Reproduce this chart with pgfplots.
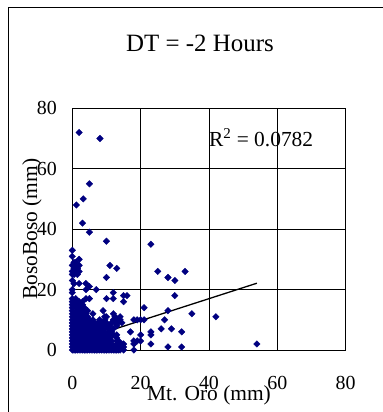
\documentclass[border=0pt]{standalone}
\usepackage{fontspec}
\setmainfont{Liberation Serif}
\usepackage{pgfplots}
\pgfplotsset{compat=1.18}
\definecolor{navy}{RGB}{0,0,128}
\begin{document}
\begin{tikzpicture}
\useasboundingbox (0,0) rectangle (383bp,412bp);
\draw[line width=1bp] (8bp,-20bp) rectangle (430bp,404bp);
\node[font=\fontsize{25}{30}\selectfont] at (200bp,369bp) {DT = -2 Hours};
\begin{axis}[
  at={(72.3bp,62bp)}, anchor=south west,
  scale only axis, width=273.4bp, height=241.7bp,
  xmin=0, xmax=80, ymin=0, ymax=80,
  xtick={0,20,40,60,80}, ytick={0,20,40,60,80},
  grid=major, major grid style={black, line width=0.8pt},
  axis line style={black, line width=1pt},
  tick style={draw=none},
  ticklabel style={font=\fontsize{20}{24}\selectfont},
  /pgf/number format/assume math mode=true,
  xticklabel style={yshift=-23bp},
  yticklabel style={xshift=-12bp},
  xlabel={Mt. Oro (mm)}, ylabel={BosoBoso (mm)},
  label style={font=\fontsize{21.5}{26}\selectfont},
  xlabel style={at={(axis description cs:0.5,0)}, anchor=center, yshift=-45bp},
  ylabel style={at={(axis description cs:-0.1474,0.5)}, anchor=center},
  clip=false,
]
\addplot[only marks, mark=square*, mark size=2.3bp, mark options={rotate=45, navy, fill=navy}, color=navy] coordinates {
(0,0)(0,1)(0,2)(0,3)(0,4)(0,5)(0,6)(0,7)(0,8)(0,9)(0,10)(0,11)(0,12)(0,13)(0,14)(0,15)(0,16)(0,17)(0,19)(0,20)(0,23)(0,25)(0,26)(0,28)(0,31)(0,33)
(0.5,0)(0.5,1)(0.5,2)(0.5,3)(0.5,4)(0.5,5)(0.5,6)(0.5,8)(0.5,10)(0.5,12)(0.5,15)(0.5,16)(0.5,22)(0.5,25)(0.5,27)(0.5,29)
(1,0)(1,1)(1,2)(1,3)(1,4)(1,5)(1,6)(1,7)(1,8)(1,9)(1,10)(1,11)(1,12)(1,14)(1,16)(1,17)(1,26)(1,28)(1,29)(1.2,48)
(1.5,0)(1.5,1)(1.5,2)(1.5,3)(1.5,4)(1.5,5)(1.5,7)(1.5,9)(1.5,11)(1.5,13)(1.5,15)(1.5,25)(1.5,27)
(2,0)(2,1)(2,2)(2,3)(2,4)(2,5)(2,6)(2,7)(2,8)(2,10)(2,12)(2,14)(2,16)(2,22)(2,26)(2,28)(2,30)(2,72)
(2.5,0)(2.5,1)(2.5,2)(2.5,3)(2.5,5)(2.5,6)(2.5,8)(2.5,9)(2.5,11)(2.5,13)(2.5,15)
(3,0)(3,1)(3,2)(3,3)(3,4)(3,5)(3,6)(3,7)(3,8)(3,10)(3,12)(3,13)(3,15)(3,16)(3,42)(3.2,50)
(3.5,0)(3.5,1)(3.5,2)(3.5,4)(3.5,5)(3.5,7)(3.5,9)(3.5,11)(3.5,14)
(4,0)(4,1)(4,2)(4,3)(4,4)(4,5)(4,6)(4,7)(4,8)(4,9)(4,10)(4,12)(4,17)(4,20)(4,22)
(4.5,0)(4.5,2)(4.5,3)(4.5,5)(4.5,6)(4.5,8)(4.5,10)(4.5,11)(4.5,13)
(5,0)(5,1)(5,2)(5,3)(5,4)(5,5)(5,6)(5,7)(5,9)(5,10)(5,17)(5,21)(5,39)(5,55)
(5.5,0)(5.5,1)(5.5,3)(5.5,4)(5.5,6)(5.5,8)(5.5,9)
(6,0)(6,1)(6,2)(6,3)(6,4)(6,5)(6,6)(6,7)(6,8)(6,10)(6,12)
(6.5,0)(6.5,2)(6.5,3)(6.5,5)(6.5,6)(6.5,7)(6.5,9)
(7,0)(7,1)(7,2)(7,3)(7,4)(7,5)(7,6)(7,8)(7,20)
(7.5,0)(7.5,1)(7.5,3)(7.5,4)(7.5,5)(7.5,7)(7.5,9)
(8,0)(8,1)(8,2)(8,3)(8,4)(8,5)(8,6)(8,7)(8,8)(8,10)(8.1,70)
(8.5,0)(8.5,2)(8.5,3)(8.5,5)(8.5,6)(8.5,9)
(9,0)(9,1)(9,2)(9,3)(9,4)(9,5)(9,6)(9,7)(9,8)(9,9)(9,13)
(9.5,0)(9.5,1)(9.5,3)(9.5,4)(9.5,6)(9.5,10)(9.5,11)
(10,0)(10,1)(10,2)(10,3)(10,4)(10,5)(10,8)(10,9)(10,11)(10,17)(10,24)(10,36)
(10.5,0)(10.5,1)(10.5,2)(10.5,4)(10.5,5)(10.5,7)
(11,0)(11,1)(11,2)(11,3)(11,4)(11,6)(11,8)(11,28)
(11.5,0)(11.5,2)(11.5,3)(11.5,6)(11.5,9)
(12,0)(12,1)(12,5)(12,7)(12,10)(12,12)(12,17)(12,19)
(12.5,0)(12.5,1)(12.5,9)(12.5,11)
(13,0)(13,1)(13,2)(13,3)(13,4)(13,5)(13,8)(13,10)(13,27)
(13.5,0)(13.5,1)(13.5,3)(13.5,9)
(14,0)(14,1)(14,2)(14,10)(14,11)
(14.5,1)(14.5,2)(14.5,9)
(15,0)(15,1)(15,2)(15,16)(15,18)
(16,18)(17,6)
(18,0)(18,2)(18,3)(18,10)
(19,3)(19,10)
(20,3)(20,5)(20,10)
(21,10)(21,14)
(23,2)(23,5)(23,6)(23,35)
(25,26)(26,7)(27,10)
(28,1)(28,13)(28,24)
(29,7)(30,18)(30,23)
(32,1)(32,6)(33,26)(35,12)(42,11)(54,2)
};
\addplot[black, line width=1.3pt] coordinates {(0,2.4)(54,22.1)};
\node[anchor=west, inner sep=0pt, font=\fontsize{21.5}{26}\selectfont] at (axis cs:40,70.2) {R\textsuperscript{2} = 0.0782};
\end{axis}
\end{tikzpicture}
\end{document}
